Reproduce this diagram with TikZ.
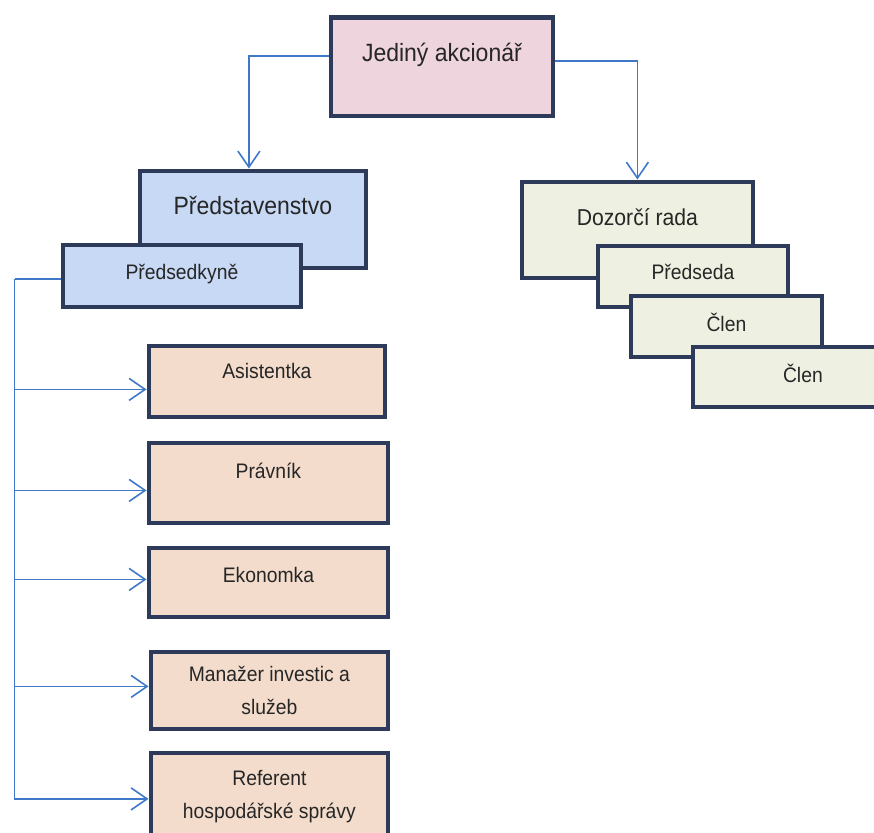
\documentclass[tikz,border=0pt]{standalone}
\usepackage{fontspec}
\setmainfont{Liberation Sans}[FakeStretch=0.92]
\usetikzlibrary{arrows.meta}

\definecolor{frame}{HTML}{2E3A5A}
\definecolor{linkblue}{HTML}{3F78C8}
\definecolor{ownerfill}{HTML}{EED4DC}
\definecolor{boardfill}{HTML}{C7D9F5}
\definecolor{councilfill}{HTML}{EEF0E1}
\definecolor{stafffill}{HTML}{F3DCCB}

\tikzset{
	unitshape/.style={draw=frame, line width=4.8pt, anchor=north west, inner sep=0pt,
		align=center, text=black!85, font=\fontsize{21}{33}\selectfont},
	bigtext/.style={font=\fontsize{#1}{#1}\selectfont},
	lift/.style={text height=15pt, text depth=#1},
	ownershape/.style={unitshape, fill=ownerfill},
	boardshape/.style={unitshape, fill=boardfill},
	councilshape/.style={unitshape, fill=councilfill},
	staffshape/.style={unitshape, fill=stafffill},
	wire/.style={draw=linkblue, line width=1.6pt},
	link/.style={wire, -{Straight Barb[length=16pt, width=22pt, line width=1.6pt]}},
}

\begin{document}
\begin{tikzpicture}[x=1pt, y=-1pt]
		\useasboundingbox (0,0) rectangle (874,832);
		\node [ownershape, bigtext=25, text height=18pt, text depth=29pt, minimum width=222pt, minimum height=98pt] (owner) at (328.5,15.5) {Jediný akcionář};
		\node [boardshape, bigtext=25, text height=18pt, text depth=28pt, minimum width=226pt, minimum height=97pt] (board) at (137.5,168.5) {Představenstvo};
		\node [boardshape, lift=7pt, minimum width=238pt, minimum height=62pt] (chair) at (60.5,242.5) {Předsedkyně};
		\node [councilshape, bigtext=23, text height=16.5pt, text depth=25pt, minimum width=231pt, minimum height=96pt] (council) at (519.5,179.5) {Dozorčí rada};
		\node [councilshape, lift=8pt, minimum width=190pt, minimum height=61pt] (head) at (595.5,243.5) {Předseda};
		\node [councilshape, lift=4pt, minimum width=191pt, minimum height=61pt] (member1) at (628.5,293.5) {Člen};
		\node [councilshape, lift=4pt, minimum width=220pt, minimum height=60pt] (member2) at (690.5,344.5) {Člen};
		\node [staffshape, lift=20pt, minimum width=236pt, minimum height=71pt] (assistant) at (146.5,343.5) {Asistentka};
		\node [staffshape, lift=24pt, minimum width=239pt, minimum height=80pt] (lawyer) at (146.5,440.5) {Právník};
		\node [staffshape, lift=14pt, minimum width=239pt, minimum height=69pt] (economist) at (146.5,545.5) {Ekonomka};
		\node [staffshape, minimum width=237pt, minimum height=77pt] (manager) at (148.5,649.5) {Manažer investic a\\služeb};
		\node [staffshape, minimum width=237pt, minimum height=88pt] (clerk) at (148.5,750.5) {Referent\\hospodářské správy};
		\coordinate [xshift=-46pt, yshift=-3pt] (spine) at (chair.west);

		\draw [link] ([yshift=11pt]owner.west) -| ([xshift=-4pt]board.north);
		\draw [link] ([yshift=6pt]owner.east) -| (council.north);
		\draw [wire] ([yshift=-3pt]chair.west) -- (spine);
		\foreach \unit/\dy in {assistant/-8, lawyer/-7.5, economist/3, manager/4, clerk/-2}
			\draw [link] (spine) |- ([yshift=\dy pt]\unit.west);
	\end{tikzpicture}
\end{document}
